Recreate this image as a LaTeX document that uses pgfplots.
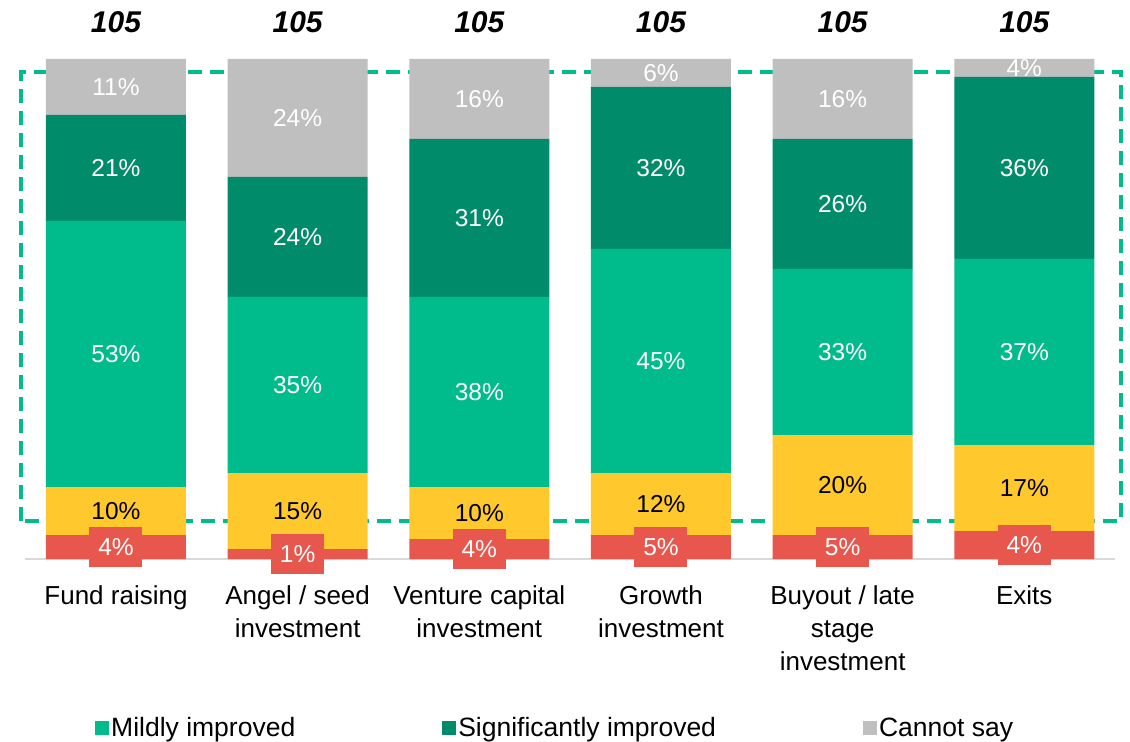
\documentclass[border=0pt]{standalone}
\usepackage{fontspec}
\setmainfont{Liberation Sans}
\usepackage{pgfplots}
\usepackage{pgfplotstable}
\pgfplotsset{compat=1.18}
\definecolor{cred}{RGB}{232,87,77}
\definecolor{cyel}{RGB}{255,200,45}
\definecolor{cmild}{RGB}{0,187,140}
\definecolor{csig}{RGB}{0,140,106}
\definecolor{cgray}{RGB}{191,191,191}
\definecolor{cline}{RGB}{217,217,217}

\pgfplotstableread{
x red redl yel yell mild mildl sig sigl cs csl
0 4.8 4 9.6 10 53.2 53 21.2 21 11.2 11
1 2.0 1 15.2 15 35.2 35 24.0 24 23.6 24
2 4.0 4 10.4 10 38.0 38 31.6 31 16.0 16
3 4.8 5 12.4 12 44.8 45 32.4 32 5.6 6
4 4.8 5 20.0 20 33.2 33 26.0 26 16.0 16
5 5.6 4 17.2 17 37.2 37 36.4 36 3.6 4
}\data

\pgfplotsset{
  seg/.style 2 args={fill=#2, draw=none,
    visualization depends on={\thisrow{#1}\as\rawy},
    nodes near coords={\pgfplotspointmeta\%},
    point meta=explicit symbolic,
    every node near coord/.append style={anchor=center,
      font=\fontsize{24.5bp}{28bp}\selectfont, text=white}},
}

\begin{document}
\begin{tikzpicture}
\begin{axis}[
  at={(0,0)}, anchor=south west,
  scale only axis, width=1090bp, height=500bp,
  xmin=-0.5, xmax=5.5, ymin=0, ymax=100,
  ybar stacked, bar width=140bp,
  axis x line*=bottom, axis y line=none,
  x axis line style={draw=cline, line width=2bp},
  xtick={0,1,2,3,4,5}, major tick length=0pt,
  xticklabels={{Fund raising},{Angel / seed\\investment},{Venture capital\\investment},{Growth\\investment},{Buyout / late\\stage\\investment},{Exits}},
  xticklabel style={align=center, font=\fontsize{26bp}{33bp}\selectfont, yshift=-23bp},
  ytick=\empty,
  clip=false,
  legend columns=3,
  legend image code/.code={\fill[#1] (0bp,-7bp) rectangle (14bp,7bp);},
  legend style={draw=none, fill=none, inner sep=0pt, at={(0.0641,-0.338)}, anchor=west,
    font=\fontsize{26.5bp}{30bp}\selectfont,
    nodes={inner sep=2bp},
    /tikz/every even column/.append style={column sep=145bp}},
]
\addplot[seg={red}{cred}, forget plot,
  every node near coord/.append style={fill=cred, minimum width=53bp, minimum height=40bp, inner sep=0pt}]
  table[x=x, y=red, meta=redl]{\data};
\addplot[seg={yel}{cyel}, forget plot,
  every node near coord/.append style={text=black}]
  table[x=x, y=yel, meta=yell]{\data};
\addplot[seg={mild}{cmild}] table[x=x, y=mild, meta=mildl]{\data};
\addplot[seg={sig}{csig}] table[x=x, y=sig, meta=sigl]{\data};
\addplot[seg={cs}{cgray}] table[x=x, y=cs, meta=csl]{\data};
\legend{Mildly improved, Significantly improved, Cannot say}
\draw[cmild, line width=4bp, dash pattern=on 14bp off 8bp]
  (axis cs:-0.523,7.6) rectangle (axis cs:5.531,97.4);
\pgfplotsinvokeforeach{0,...,5}{
  \node[font=\fontsize{30bp}{34bp}\selectfont\bfseries\itshape] at (axis cs:#1,107.4) {105};
}
\end{axis}
\pgfresetboundingbox
\path[use as bounding box] (-25.15bp,-183bp) rectangle (1104.85bp,559bp);
\end{tikzpicture}
\end{document}
